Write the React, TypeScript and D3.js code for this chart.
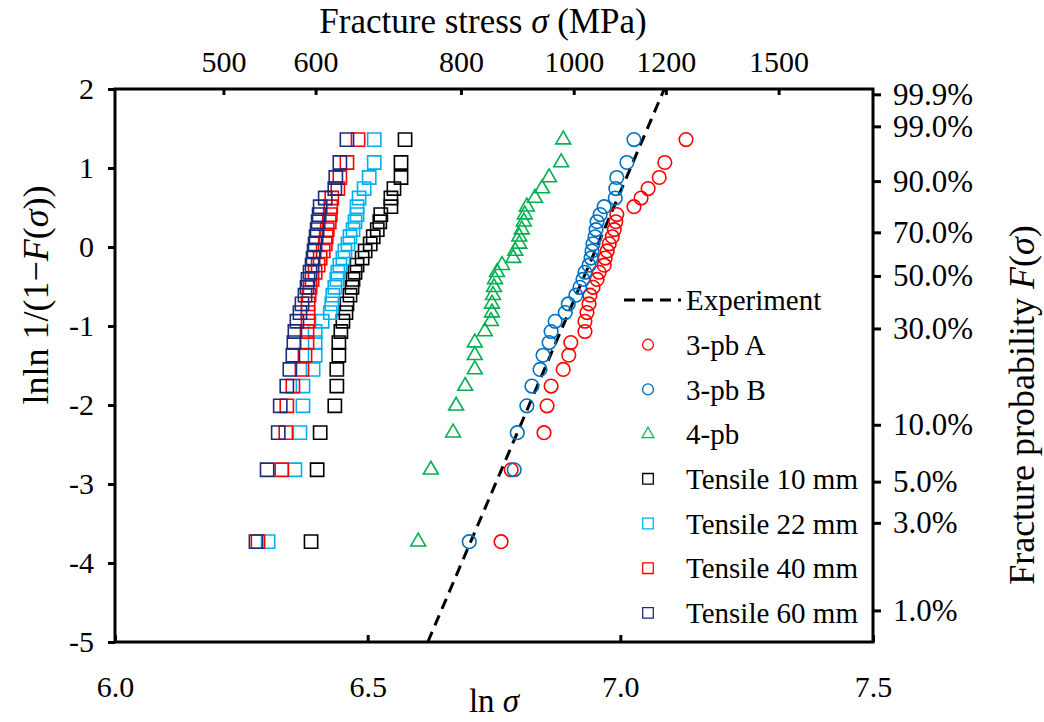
import { useRef, useEffect } from "react";
import * as d3 from "d3";

// plotting positions lnln 1/(1-F), bottom to top, shared by every series
const rankY = [-3.73, -2.82, -2.35, -2.01, -1.76, -1.55, -1.37, -1.21, -1.07, -0.94, -0.83, -0.72, -0.61, -0.51, -0.41, -0.32, -0.23, -0.14, -0.05, 0.04, 0.13, 0.22, 0.32, 0.41, 0.51, 0.62, 0.74, 0.88, 1.07, 1.36];

// ln(sigma) of each sorted specimen
const pbA = [6.764, 6.784, 6.849, 6.855, 6.863, 6.887, 6.898, 6.902, 6.930, 6.930, 6.934, 6.938, 6.940, 6.946, 6.954, 6.958, 6.968, 6.970, 6.974, 6.978, 6.984, 6.988, 6.991, 6.993, 7.027, 7.041, 7.055, 7.077, 7.088, 7.130];
const pbB = [6.701, 6.790, 6.796, 6.815, 6.825, 6.841, 6.847, 6.859, 6.863, 6.871, 6.891, 6.897, 6.912, 6.920, 6.926, 6.930, 6.938, 6.942, 6.944, 6.946, 6.950, 6.952, 6.954, 6.960, 6.968, 6.990, 6.991, 6.993, 7.013, 7.027];
const pb4 = [6.600, 6.625, 6.669, 6.675, 6.693, 6.712, 6.712, 6.712, 6.732, 6.744, 6.746, 6.746, 6.748, 6.750, 6.752, 6.756, 6.766, 6.788, 6.792, 6.800, 6.800, 6.805, 6.809, 6.811, 6.815, 6.831, 6.845, 6.859, 6.883, 6.887];
const t10 = [6.388, 6.400, 6.406, 6.435, 6.439, 6.439, 6.443, 6.443, 6.447, 6.451, 6.457, 6.459, 6.465, 6.469, 6.471, 6.475, 6.479, 6.489, 6.495, 6.505, 6.511, 6.519, 6.524, 6.526, 6.546, 6.546, 6.552, 6.566, 6.566, 6.574];
const t22 = [6.303, 6.356, 6.366, 6.372, 6.372, 6.392, 6.396, 6.396, 6.396, 6.410, 6.426, 6.429, 6.431, 6.435, 6.439, 6.441, 6.445, 6.451, 6.455, 6.461, 6.465, 6.471, 6.475, 6.479, 6.479, 6.483, 6.493, 6.503, 6.513, 6.513];
const t40 = [6.283, 6.330, 6.338, 6.340, 6.352, 6.370, 6.376, 6.380, 6.380, 6.382, 6.382, 6.382, 6.384, 6.386, 6.390, 6.396, 6.402, 6.406, 6.412, 6.416, 6.418, 6.420, 6.424, 6.426, 6.427, 6.429, 6.441, 6.445, 6.459, 6.481];
const t60 = [6.279, 6.301, 6.323, 6.327, 6.340, 6.346, 6.352, 6.354, 6.356, 6.360, 6.366, 6.370, 6.376, 6.380, 6.382, 6.386, 6.390, 6.392, 6.394, 6.396, 6.398, 6.400, 6.402, 6.404, 6.406, 6.416, 6.435, 6.437, 6.445, 6.459];

// experiment fit line end points
const expX = [6.619, 7.087];
const expY = [-5, 2];

const xTicks = [6.0, 6.5, 7.0, 7.5];
const yTicks = [-5, -4, -3, -2, -1, 0, 1, 2];
const stressTicks = [500, 600, 800, 1000, 1200, 1500];
const probTicks = [0.999, 0.99, 0.9, 0.7, 0.5, 0.3, 0.1, 0.05, 0.03, 0.01];
const probLabels = ["99.9%", "99.0%", "90.0%", "70.0%", "50.0%", "30.0%", "10.0%", "5.0%", "3.0%", "1.0%"];

const series = [
  { name: "3-pb A", xs: pbA, color: "#ff0000", shape: "circle" },
  { name: "3-pb B", xs: pbB, color: "#0070c0", shape: "circle" },
  { name: "4-pb", xs: pb4, color: "#00b050", shape: "triangle" },
  { name: "Tensile 10 mm", xs: t10, color: "#000000", shape: "square" },
  { name: "Tensile 22 mm", xs: t22, color: "#00b0f0", shape: "square" },
  { name: "Tensile 40 mm", xs: t40, color: "#ff0000", shape: "square" },
  { name: "Tensile 60 mm", xs: t60, color: "#1a2c7a", shape: "square" },
];

const FONT = "'Liberation Serif', 'Times New Roman', serif";

function symbolPath(shape: string) {
  if (shape === "circle") return d3.symbol(d3.symbolCircle, 145)();
  if (shape === "triangle") return d3.symbol(d3.symbolTriangle, 95)();
  return d3.symbol(d3.symbolSquare, 175)();
}

export default function App() {
  const ref = useRef<SVGSVGElement>(null);
  const width = 1044, height = 722;

  useEffect(() => {
    if (!ref.current) return;
    const svg = d3.select(ref.current);
    svg.selectAll("*").remove();
    const m = { top: 89, right: 171, bottom: 80, left: 115 };
    const w = width - m.left - m.right;
    const h = height - m.top - m.bottom;
    const g = svg.append("g").attr("transform", `translate(${m.left},${m.top})`);

    const x = d3.scaleLinear().domain([6, 7.5]).range([0, w]);
    const y = d3.scaleLinear().domain([-5, 2]).range([h, 0]);
    const xTop = d3.scaleLog().domain([Math.exp(6), Math.exp(7.5)]).range([0, w]);
    const weib = (p: number) => Math.log(-Math.log(1 - p));

    const style = (sel: any, size = 30) => {
      sel.select(".domain").remove();
      sel.selectAll(".tick line").attr("stroke", "#000").attr("stroke-width", 3);
      sel.selectAll("text").attr("font-family", FONT).attr("font-size", size).attr("fill", "#000");
    };

    style(g.append("g").attr("transform", `translate(0,${h})`)
      .call(d3.axisBottom(x).tickValues(xTicks).tickFormat(d3.format(".1f")).tickSizeInner(-7).tickSizeOuter(0).tickPadding(34)));
    style(g.append("g")
      .call(d3.axisTop(xTop).tickValues(stressTicks).tickFormat(d3.format("d")).tickSizeInner(-6).tickSizeOuter(0).tickPadding(17)));
    style(g.append("g")
      .call(d3.axisLeft(y).tickValues(yTicks).tickFormat((d: any) => String(d)).tickSize(7).tickPadding(14)));
    style(g.append("g").attr("transform", `translate(${w},0)`)
      .call(d3.axisRight(y).tickValues(probTicks.map(weib)).tickFormat((_d: any, i: number) => probLabels[i]).tickSize(8).tickPadding(12)), 31);

    g.append("rect").attr("width", w).attr("height", h)
      .attr("fill", "none").attr("stroke", "#000").attr("stroke-width", 3);

    const line = d3.line<[number, number]>().x(d => x(d[0])).y(d => y(d[1]));
    g.append("path").datum(expX.map((v, i) => [v, expY[i]] as [number, number]))
      .attr("d", line).attr("fill", "none").attr("stroke", "#000")
      .attr("stroke-width", 3).attr("stroke-dasharray", "11,7");

    series.forEach(s => {
      g.append("g").selectAll("path").data(s.xs).enter().append("path")
        .attr("d", symbolPath(s.shape))
        .attr("transform", (d, i) => `translate(${x(d)},${y(rankY[i])})`)
        .attr("fill", "none").attr("stroke", s.color).attr("stroke-width", 1.6);
    });

    // legend
    const lg = svg.append("g").attr("transform", "translate(648,300)");
    const rowH = 44.7;
    lg.append("line").attr("x1", -24).attr("x2", 33).attr("y1", 0).attr("y2", 0)
      .attr("stroke", "#000").attr("stroke-width", 3).attr("stroke-dasharray", "11,7");
    lg.append("text").attr("x", 38).attr("y", 0).attr("dy", "0.35em").text("Experiment")
      .attr("font-family", FONT).attr("font-size", 29);
    series.forEach((s, i) => {
      const row = lg.append("g").attr("transform", `translate(0,${(i + 1) * rowH})`);
      row.append("path").attr("d", symbolPath(s.shape)).attr("fill", "none")
        .attr("stroke", s.color).attr("stroke-width", 1.6).attr("transform", "scale(0.8)");
      row.append("text").attr("x", 38).attr("dy", "0.35em").text(s.name)
        .attr("font-family", FONT).attr("font-size", 29);
    });

    // axis titles
    const top = svg.append("text").attr("x", 483).attr("y", 33).attr("text-anchor", "middle")
      .attr("font-family", FONT).attr("font-size", 35);
    top.append("tspan").text("Fracture stress ");
    top.append("tspan").attr("font-style", "italic").text("σ");
    top.append("tspan").text(" (MPa)");

    const bot = svg.append("text").attr("x", 494).attr("y", 712).attr("text-anchor", "middle")
      .attr("font-family", FONT).attr("font-size", 33);
    bot.append("tspan").text("ln ");
    bot.append("tspan").attr("font-style", "italic").text("σ");

    const left = svg.append("text").attr("transform", "translate(36,295) rotate(-90)")
      .attr("text-anchor", "middle").attr("dominant-baseline", "central")
      .attr("font-family", FONT).attr("font-size", 36);
    left.append("tspan").text("lnln 1/(1−");
    left.append("tspan").attr("font-style", "italic").text("F");
    left.append("tspan").text("(");
    left.append("tspan").attr("font-style", "italic").text("σ");
    left.append("tspan").text("))");

    const right = svg.append("text").attr("transform", "translate(1022,405) rotate(-90)")
      .attr("text-anchor", "middle").attr("dominant-baseline", "central")
      .attr("font-family", FONT).attr("font-size", 36);
    right.append("tspan").text("Fracture probability ");
    right.append("tspan").attr("font-style", "italic").text("F");
    right.append("tspan").text("(");
    right.append("tspan").attr("font-style", "italic").text("σ");
    right.append("tspan").text(")");
  }, []);

  return (
    <svg ref={ref} width={width} height={height}
      style={{ position: "absolute", left: 0, top: 0, background: "#fff" }} />
  );
}
